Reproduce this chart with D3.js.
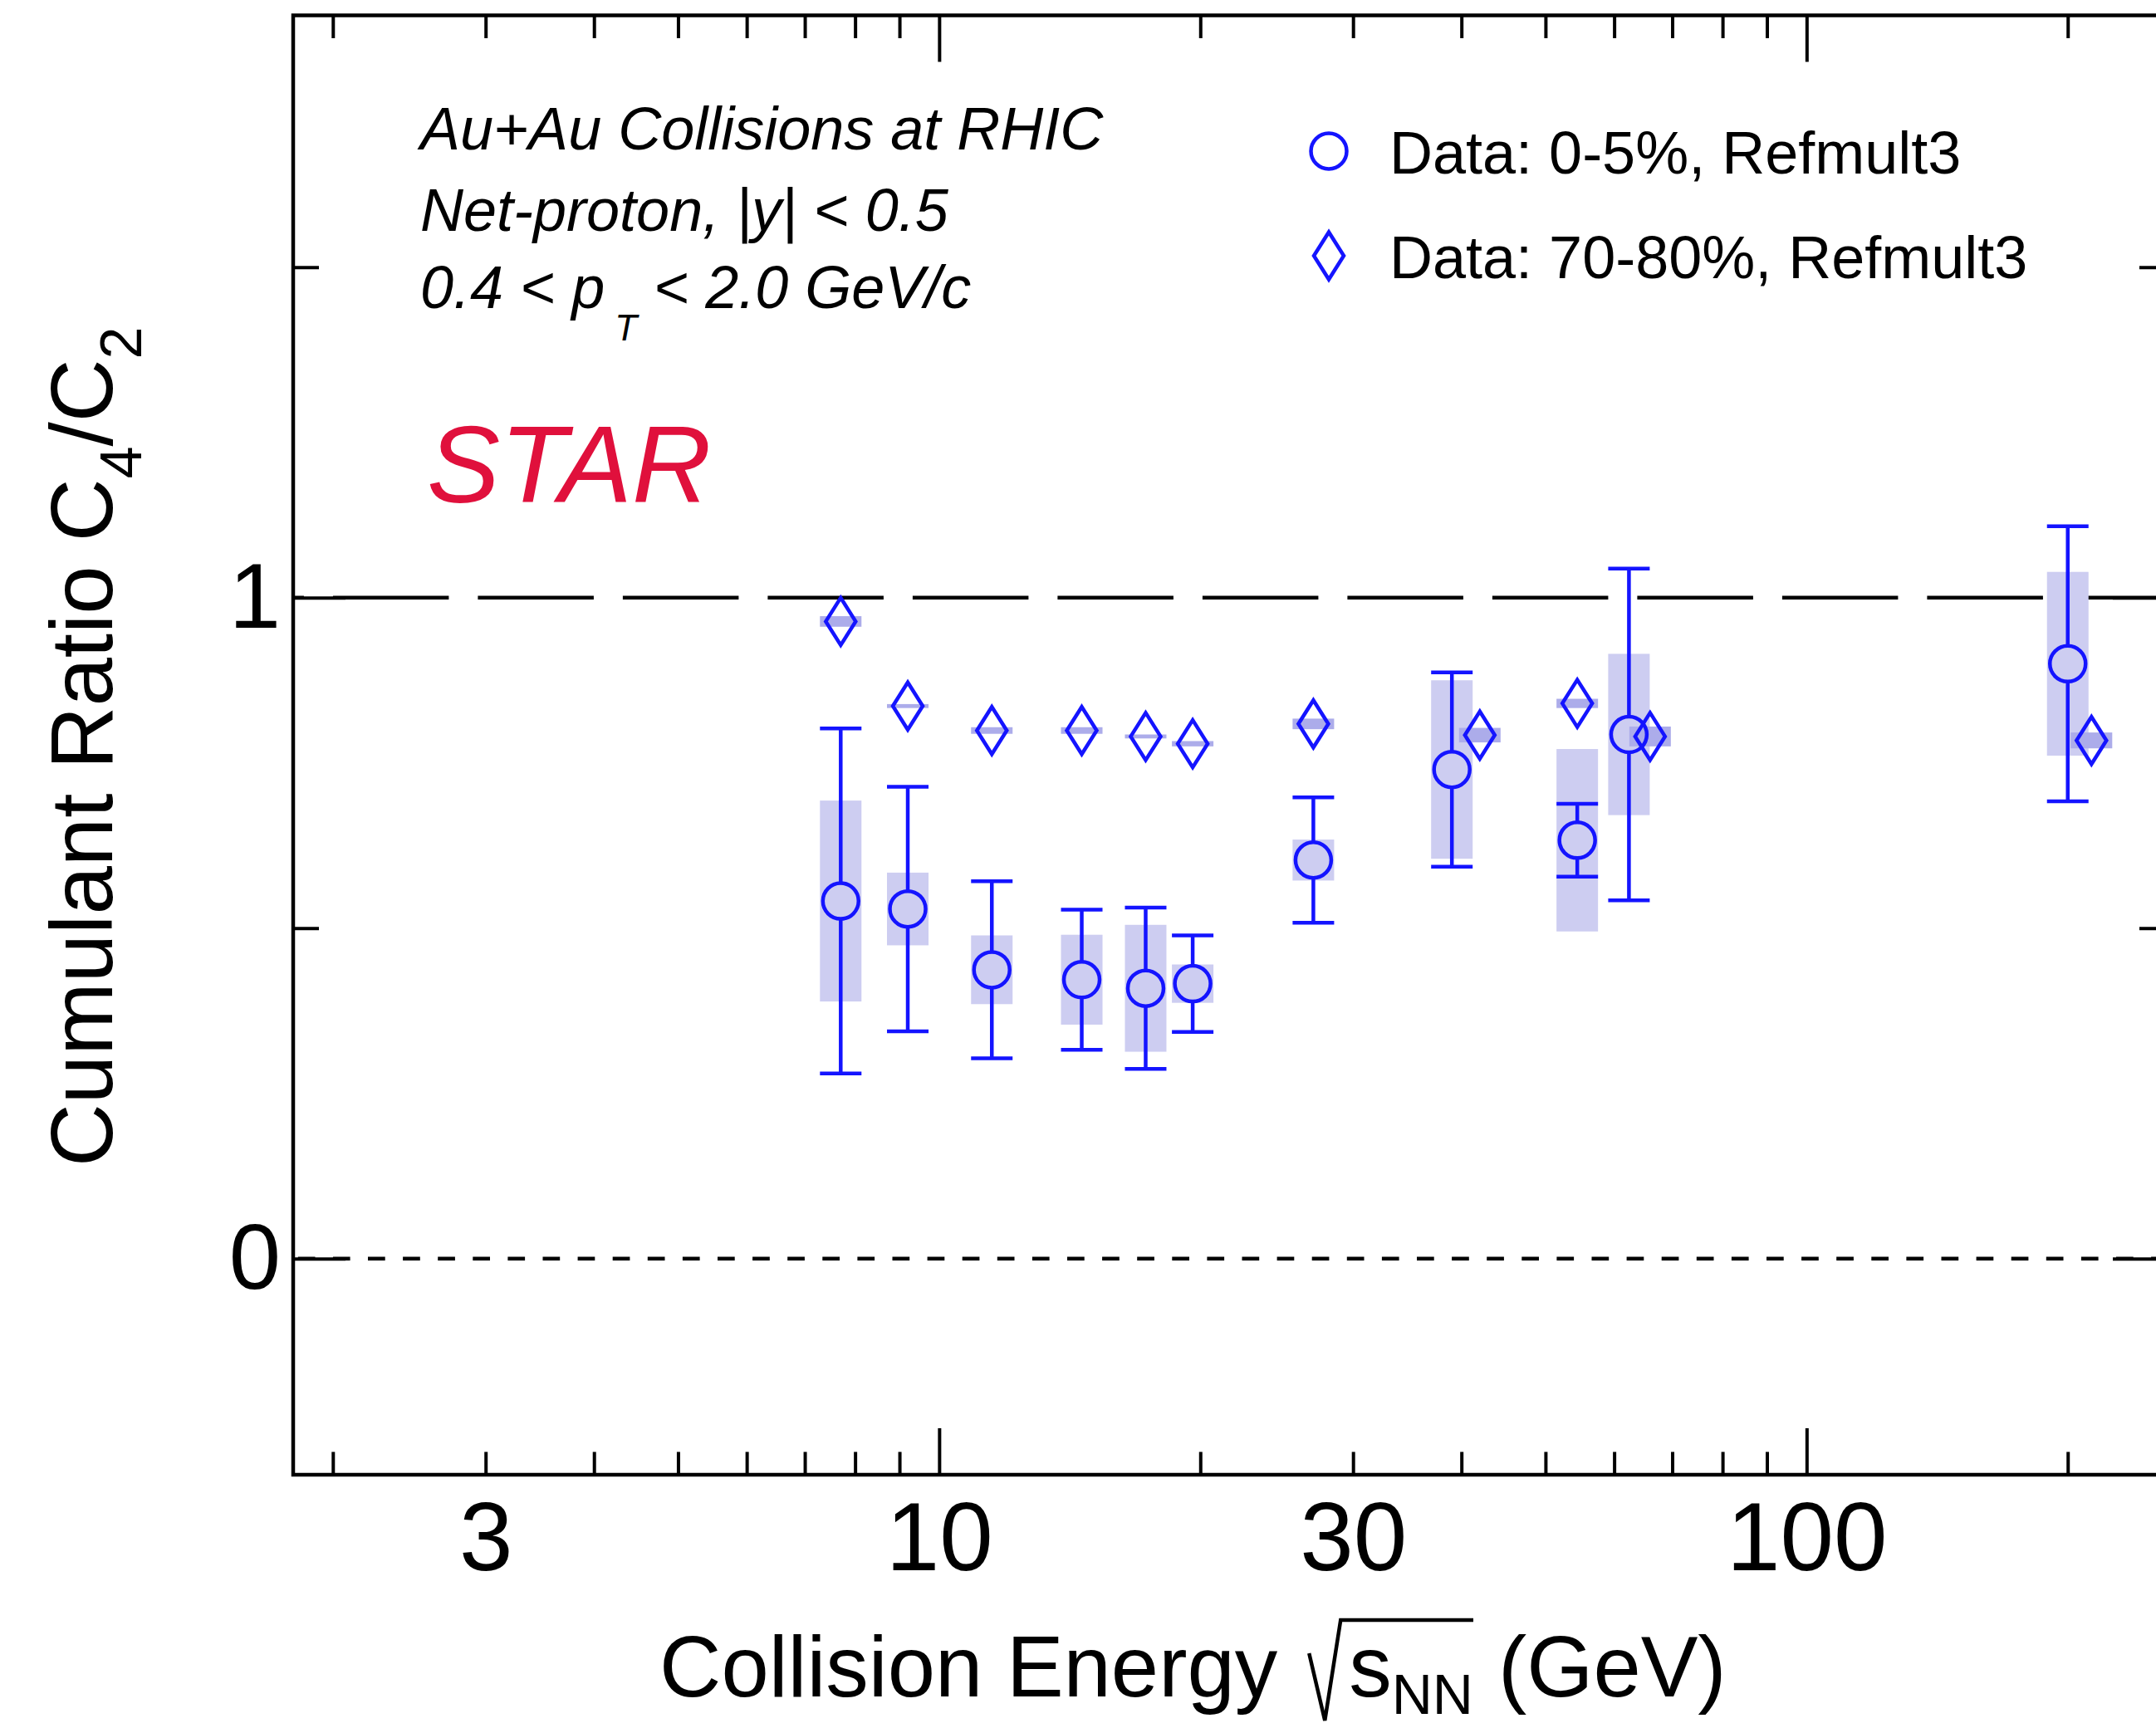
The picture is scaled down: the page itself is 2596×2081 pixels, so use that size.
<!DOCTYPE html>
<html>
<head>
<meta charset="utf-8">
<script src="https://cdn.jsdelivr.net/npm/d3@7"></script>
<style>
  html, body { margin: 0; padding: 0; background: #fff; overflow: hidden; }
  svg { display: block; font-family: "Liberation Sans", Arial, Helvetica, sans-serif; }
</style>
</head>
<body>
<svg id="chart" width="2596" height="2081"></svg>
<script>
// Net-proton C4/C2 vs collision energy, 0-5% central (circles)
const energies = [7.7, 9.2, 11.5, 14.6, 17.3, 19.6, 27, 39, 54.4, 62.4, 200];
const centralRatio = [0.541, 0.529, 0.437, 0.422, 0.409, 0.416, 0.603, 0.740, 0.633, 0.793, 0.900];
const centralStat = [0.261, 0.185, 0.134, 0.106, 0.122, 0.073, 0.095, 0.147, 0.055, 0.251, 0.208];
const centralSys = [0.152, 0.055, 0.052, 0.068, 0.096, 0.029, 0.031, 0.135, 0.138, 0.122, 0.139];

// 70-80% peripheral (diamonds), shifted a bit in energy where they overlap
const peripheralEnergies = [7.7, 9.2, 11.5, 14.6, 17.3, 19.6, 27, 42, 54.4, 66, 213];
const peripheralRatio = [0.964, 0.836, 0.799, 0.799, 0.790, 0.779, 0.809, 0.792, 0.840, 0.790, 0.784];
const peripheralSys = [0.008, 0.003, 0.005, 0.005, 0.003, 0.004, 0.008, 0.011, 0.007, 0.015, 0.012];

// ticks
const xMajorTicks = [10, 100];
const xMinorTicks = [2, 3, 4, 5, 6, 7, 8, 9, 20, 30, 40, 50, 60, 70, 80, 90, 200];
const xTickLabels = [3, 10, 30, 100];
const yMajorTicks = [0, 1];
const yMinorTicks = [0.5, 1.5];
const yTickLabels = [0, 1];
const legendLabels = ["Data: 0-5%, Refmult3", "Data: 70-80%, Refmult3"];

const blue = "#1414ff";
const boxCentral = "#cdcdf1";
const boxPeripheral = "#acacea";

const central = energies.map((e, i) => ({ e: e, v: centralRatio[i], stat: centralStat[i], sys: centralSys[i] }));
const peripheral = peripheralEnergies.map((e, i) => ({ e: e, v: peripheralRatio[i], sys: peripheralSys[i] }));

const plotLeft = 353, plotRight = 2607, plotTop = 18.5, plotBottom = 1776;
const svg = d3.select("#chart");

const x = d3.scaleLog().domain([1.8, 259]).range([plotLeft, plotRight]);
const y = d3.scaleLinear().domain([-0.327, 1.881]).range([plotBottom, plotTop]);

// reference lines at 1 and 0
svg.append("line")
  .attr("x1", plotLeft).attr("x2", plotRight)
  .attr("y1", y(1)).attr("y2", y(1))
  .attr("stroke", "#000").attr("stroke-width", 4.5)
  .attr("stroke-dasharray", "139.5 35").attr("stroke-dashoffset", 126.6);
svg.append("line")
  .attr("x1", plotLeft).attr("x2", plotRight)
  .attr("y1", y(0)).attr("y2", y(0))
  .attr("stroke", "#000").attr("stroke-width", 4.5)
  .attr("stroke-dasharray", "20.7 21.4").attr("stroke-dashoffset", 36.3);

// systematic boxes
const boxW = 50;
svg.append("g").selectAll("rect")
  .data(central)
  .join("rect")
  .attr("x", d => x(d.e) - boxW / 2)
  .attr("width", boxW)
  .attr("y", d => y(d.v + d.sys))
  .attr("height", d => y(d.v - d.sys) - y(d.v + d.sys))
  .attr("fill", boxCentral);
svg.append("g").selectAll("rect")
  .data(peripheral)
  .join("rect")
  .attr("x", d => x(d.e) - boxW / 2)
  .attr("width", boxW)
  .attr("y", d => y(d.v + d.sys))
  .attr("height", d => Math.max(3, y(d.v - d.sys) - y(d.v + d.sys)))
  .attr("fill", boxPeripheral);

// statistical error bars, stopping at the marker edge
const r = 21.5;
const capW = 50;
svg.append("g").selectAll("path")
  .data(central)
  .join("path")
  .attr("d", d => {
    const cx = x(d.e), cy = y(d.v), y1 = y(d.v + d.stat), y2 = y(d.v - d.stat);
    let p = "";
    if (y1 < cy - r) p += `M${cx},${y1}V${cy - r}`;
    if (y2 > cy + r) p += `M${cx},${cy + r}V${y2}`;
    p += `M${cx - capW / 2},${y1}H${cx + capW / 2}M${cx - capW / 2},${y2}H${cx + capW / 2}`;
    return p;
  })
  .attr("fill", "none")
  .attr("stroke", blue)
  .attr("stroke-width", 4.5);

// markers
const diamond = "M0,-28.5L18,0L0,28.5L-18,0Z";
svg.append("g").selectAll("circle")
  .data(central)
  .join("circle")
  .attr("cx", d => x(d.e))
  .attr("cy", d => y(d.v))
  .attr("r", r)
  .attr("fill", "none")
  .attr("stroke", blue)
  .attr("stroke-width", 4.5);
svg.append("g").selectAll("path")
  .data(peripheral)
  .join("path")
  .attr("d", diamond)
  .attr("transform", d => `translate(${x(d.e)},${y(d.v)})`)
  .attr("fill", "none")
  .attr("stroke", blue)
  .attr("stroke-width", 4.5);

// axes: ticks point inwards on all four sides
function ticks(g, axis) {
  g.call(axis);
  g.select(".domain").remove();
  g.selectAll("line").attr("stroke", "#000").attr("stroke-width", 4);
}
svg.append("g").attr("transform", `translate(0,${plotBottom})`)
  .call(ticks, d3.axisBottom(x).tickValues(xMinorTicks).tickSize(-27.5).tickFormat(""));
svg.append("g").attr("transform", `translate(0,${plotBottom})`)
  .call(ticks, d3.axisBottom(x).tickValues(xMajorTicks).tickSize(-56).tickFormat(""));
svg.append("g").attr("transform", `translate(0,${plotTop})`)
  .call(ticks, d3.axisTop(x).tickValues(xMinorTicks).tickSize(-27.5).tickFormat(""));
svg.append("g").attr("transform", `translate(0,${plotTop})`)
  .call(ticks, d3.axisTop(x).tickValues(xMajorTicks).tickSize(-56).tickFormat(""));
svg.append("g").attr("transform", `translate(${plotLeft},0)`)
  .call(ticks, d3.axisLeft(y).tickValues(yMinorTicks).tickSize(-31).tickFormat(""));
svg.append("g").attr("transform", `translate(${plotLeft},0)`)
  .call(ticks, d3.axisLeft(y).tickValues(yMajorTicks).tickSize(-63).tickFormat(""));
svg.append("g").attr("transform", `translate(${plotRight},0)`)
  .call(ticks, d3.axisRight(y).tickValues(yMinorTicks).tickSize(-31).tickFormat(""));
svg.append("g").attr("transform", `translate(${plotRight},0)`)
  .call(ticks, d3.axisRight(y).tickValues(yMajorTicks).tickSize(-63).tickFormat(""));

// tick labels
const xLab = svg.append("g").attr("transform", `translate(0,${plotBottom})`)
  .call(d3.axisBottom(x).tickValues(xTickLabels).tickSize(0).tickPadding(33).tickFormat(d3.format("d")));
xLab.select(".domain").remove();
xLab.attr("font-family", null).attr("font-size", 116);
const yLab = svg.append("g").attr("transform", `translate(${plotLeft},0)`)
  .call(d3.axisLeft(y).tickValues(yTickLabels).tickSize(0).tickPadding(15).tickFormat(d3.format("d")));
yLab.select(".domain").remove();
yLab.attr("font-family", null).attr("font-size", 112);

// frame
svg.append("rect")
  .attr("x", plotLeft).attr("y", plotTop)
  .attr("width", plotRight - plotLeft).attr("height", plotBottom - plotTop)
  .attr("fill", "none").attr("stroke", "#000").attr("stroke-width", 4.5);

// y axis title
const yTitle = svg.append("text")
  .attr("transform", "translate(135,1405) rotate(-90)")
  .attr("font-size", 105);
yTitle.append("tspan").text("Cumulant Ratio C");
yTitle.append("tspan").attr("font-size", 70).attr("dy", 35).text("4");
yTitle.append("tspan").attr("dy", -35).text("/C");
yTitle.append("tspan").attr("font-size", 70).attr("dy", 35).text("2");

// x axis title with the square root
const xTitle = svg.append("g").attr("font-size", 103);
const t1 = xTitle.append("text").attr("x", 794).attr("y", 2043).text("Collision Energy");
const r0 = 794 + t1.node().getComputedTextLength() + 38;
const sText = xTitle.append("text").attr("x", r0 + 48).attr("y", 2043).text("s");
const nnX = r0 + 48 + sText.node().getComputedTextLength();
const nnText = xTitle.append("text").attr("x", nnX).attr("y", 2064).attr("font-size", 68).text("NN");
const nnEnd = nnX + nnText.node().getComputedTextLength();
xTitle.append("path")
  .attr("d", `M${r0},1991L${r0 + 19},2072L${r0 + 38},1951H${nnEnd}`)
  .attr("fill", "none").attr("stroke", "#000").attr("stroke-width", 4.5);
xTitle.append("text").attr("x", nnEnd + 30).attr("y", 2043).text("(GeV)");

// annotation
const note = svg.append("g").attr("font-size", 72).attr("font-style", "italic");
note.append("text").attr("x", 506).attr("y", 180).text("Au+Au Collisions at RHIC");
note.append("text").attr("x", 506).attr("y", 277.7).text("Net-proton, |y| < 0.5");
const pt = note.append("text").attr("x", 506).attr("y", 370.5);
pt.append("tspan").text("0.4 < p");
pt.append("tspan").attr("dx", 12).attr("dy", 39.5).attr("font-size", 44).text("T");
pt.append("tspan").attr("dy", -39.5).text(" < 2.0 GeV/c");

svg.append("text")
  .attr("x", 514).attr("y", 605)
  .attr("font-size", 132).attr("font-style", "italic")
  .attr("fill", "#e0103c")
  .text("STAR");

// legend
const legend = svg.append("g");
legend.append("circle")
  .attr("cx", 1600).attr("cy", 182).attr("r", r)
  .attr("fill", "none").attr("stroke", blue).attr("stroke-width", 4.5);
legend.append("path")
  .attr("d", diamond).attr("transform", "translate(1600,308)")
  .attr("fill", "none").attr("stroke", blue).attr("stroke-width", 4.5);
legend.selectAll("text")
  .data(legendLabels)
  .join("text")
  .attr("x", 1673)
  .attr("y", (d, i) => [208.5, 334.8][i])
  .attr("font-size", 72)
  .text(d => d);
</script>
</body>
</html>
